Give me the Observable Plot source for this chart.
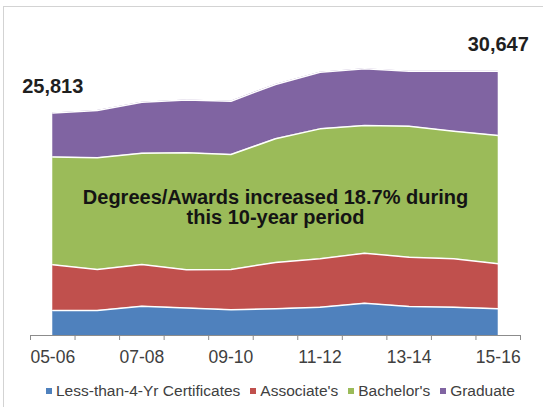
<!DOCTYPE html>
<html>
<head>
<meta charset="utf-8">
<script src="https://cdn.jsdelivr.net/npm/d3@7"></script>
<script src="https://cdn.jsdelivr.net/npm/@observablehq/plot@0.6"></script>
<style>
  html, body { margin: 0; padding: 0; background: #ffffff; }
  body { font-family: "Liberation Sans", Arial, sans-serif; }
  #wrap { position: relative; width: 543px; height: 407px; overflow: hidden; }
  #frame { position: absolute; left: 3px; top: 6px; width: 560px; height: 420px;
           border-left: 1.5px solid #d3d3d3; border-top: 1.5px solid #d3d3d3; }
  #chart { position: absolute; left: 0; top: 0; }
  #legend { position: absolute; left: 46px; top: 382px; display: flex; align-items: center;
            font-size: 15.5px; line-height: 18px; color: #404040; white-space: nowrap; }
  .item { display: flex; align-items: center; margin-right: 10px; }
  .sw { width: 6px; height: 6px; margin-right: 4px; }
</style>
</head>
<body>
<div id="wrap">
  <div id="frame"></div>
  <div id="chart"></div>
  <div id="legend"></div>
</div>
<script>
const years = ["05-06","06-07","07-08","08-09","09-10","10-11","11-12","12-13","13-14","14-15","15-16"];
const labeledYears = ["05-06","07-08","09-10","11-12","13-14","15-16"];
const seriesNames = ["Less-than-4-Yr Certificates","Associate's","Bachelor's","Graduate"];
const certificates = [2900, 2900, 3400, 3200, 2980, 3100, 3280, 3750, 3360, 3280, 3100];
const associates   = [5300, 4760, 4840, 4440, 4680, 5370, 5610, 5800, 5720, 5610, 5220];
const bachelors    = [12513, 12960, 12910, 13570, 13340, 14350, 15080, 14810, 15200, 14800, 14867];
const graduate     = [5100, 5490, 5920, 6110, 6180, 6300, 6570, 6580, 6380, 6960, 7460];
const colors = ["#4F81BD", "#C0504D", "#9BBB59", "#8064A2"];

const seriesValues = [certificates, associates, bachelors, graduate];
const table = [];
seriesNames.forEach((s, k) => {
  years.forEach((yr, i) => table.push({series: s, year: yr, i, value: seriesValues[k][i]}));
});
const totals = years.map((_, i) => seriesValues.reduce((a, arr) => a + arr[i], 0));
const fmt = d3.format(",");
const last = years.length - 1;
const endIdx = [0, last];
const pct = ((totals[last] / totals[0] - 1) * 100).toFixed(1);
const annotation = `Degrees/Awards increased ${pct}% during\nthis 10-year period`;
const mid = last / 2;
const annoY = certificates[mid] + associates[mid] + bachelors[mid] / 2;
const boundaries = years.map((_, i) => i - 0.5).concat([years.length - 0.5]);
const labelIdx = labeledYears.map(y => years.indexOf(y));

const chart = Plot.plot({
  width: 543,
  height: 375,
  marginLeft: 30,
  marginRight: 23,
  marginTop: 15,
  marginBottom: 40,
  x: {type: "linear", domain: [-0.5, years.length - 0.5], label: null},
  y: {domain: [0, 37120], axis: null},
  color: {domain: seriesNames, range: colors},
  style: {fontFamily: "'Liberation Sans', Arial, sans-serif", background: "transparent", overflow: "visible"},
  marks: [
    Plot.areaY(table, Plot.stackY({x: "i", y: "value", z: "series", fill: "series", order: seriesNames})),
    Plot.lineY(table, Plot.stackY2({x: "i", y: "value", z: "series", order: seriesNames, stroke: "white", strokeWidth: 1.5})),
    Plot.ruleY([0], {stroke: "#8c8c8c"}),
    Plot.axisX({ticks: boundaries, tickSize: 5, tickFormat: () => "", stroke: "#8c8c8c"}),
    Plot.axisX({ticks: labelIdx, tickSize: 0, tickPadding: 15, tickFormat: i => years[i], fontSize: 17.5, fill: "#404040"}),
    Plot.text(endIdx, {x: d => d, y: d => totals[d], text: d => fmt(totals[d]), lineAnchor: "bottom", dy: -20, fontSize: 20, fontWeight: "bold", fill: "#1f1f1f"}),
    Plot.text([annotation], {x: () => mid, y: () => annoY, text: d => d, lineHeight: 1, fontSize: 20, fontWeight: "bold", fill: "#141414", dy: 7})
  ]
});
document.getElementById("chart").appendChild(chart);

const legend = document.getElementById("legend");
seriesNames.forEach((s, k) => {
  const item = document.createElement("div");
  item.className = "item";
  const sw = document.createElement("span");
  sw.className = "sw";
  sw.style.background = colors[k];
  const t = document.createElement("span");
  t.textContent = s;
  item.appendChild(sw);
  item.appendChild(t);
  legend.appendChild(item);
});
</script>
</body>
</html>
